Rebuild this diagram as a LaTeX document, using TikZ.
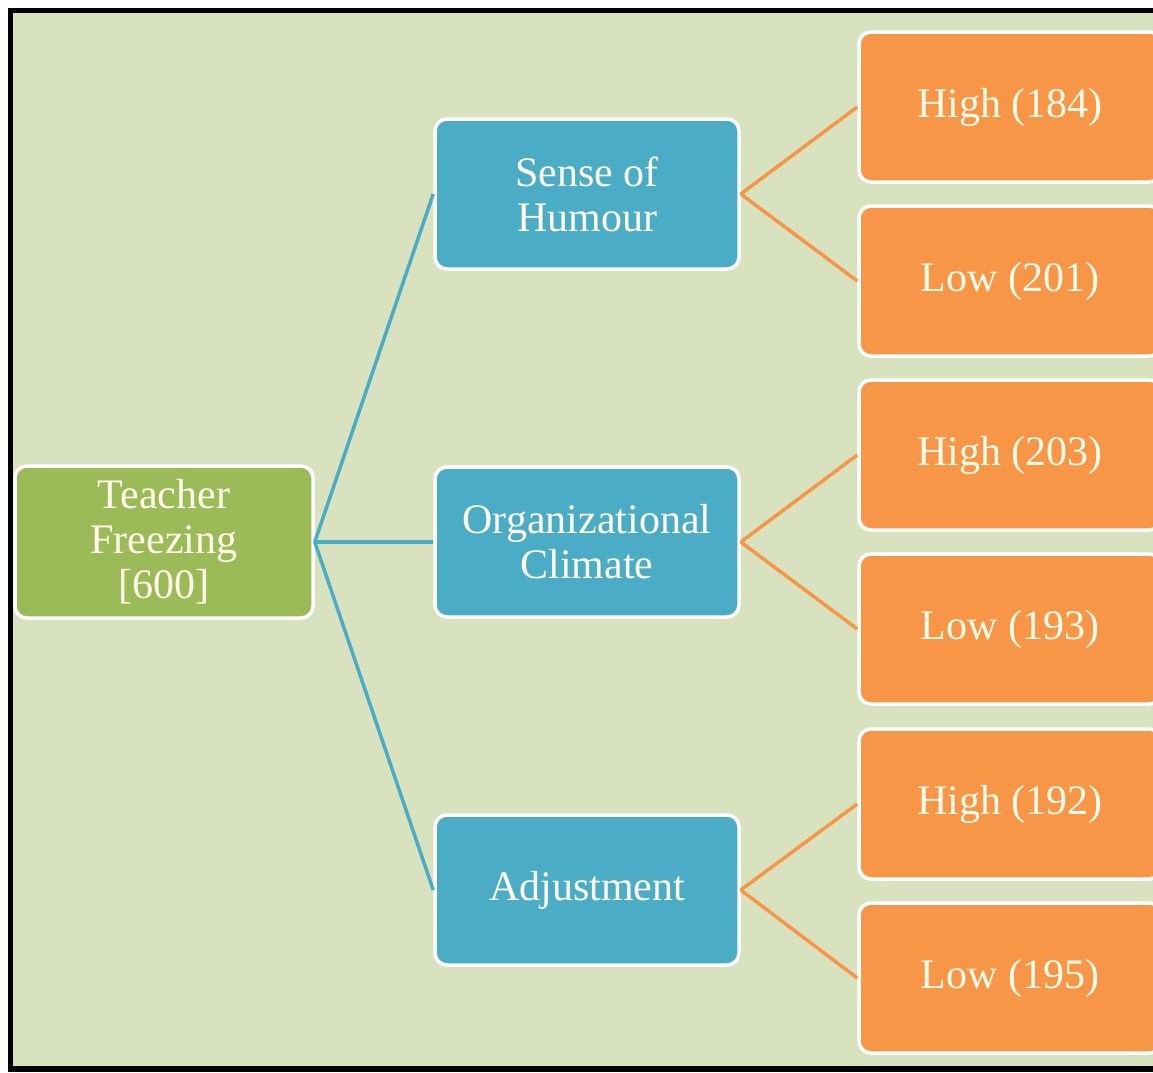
\documentclass[tikz,border=0pt]{standalone}
\usepackage{fontspec}
\setmainfont{Liberation Serif}
\definecolor{bg}{HTML}{D9E2BF}
\definecolor{gbox}{HTML}{9BBB59}
\definecolor{bbox}{HTML}{4BACC6}
\definecolor{obox}{HTML}{F79646}
\definecolor{txt}{HTML}{FFFCEB}
\begin{document}
\begin{tikzpicture}[x=1pt,y=-1pt,
  box/.style={draw=white, line width=3.5pt, rounded corners=12pt, text=txt,
    align=center, inner sep=0pt, font=\fontsize{42}{45}\selectfont},
  rootbox/.style={box, fill=gbox, minimum width=298pt, minimum height=152pt},
  midbox/.style={box, fill=bbox, minimum width=304pt, minimum height=150pt},
  leafbox/.style={box, fill=obox, minimum width=302pt, minimum height=150pt},
  bline/.style={draw=bbox, line width=3.5pt},
  oline/.style={draw=obox, line width=3.5pt}]
\useasboundingbox (0,0) rectangle (1153,1072);
\begin{scope}
\clip (0,0) rectangle (1153,1072);
\fill[white] (0,0) rectangle (1153,1072);
\fill[black] (8,8) rectangle (1170,1072);
\fill[bg] (13,13) rectangle (1170,1066);

\node[rootbox] (tf) at (164,542) {Teacher\\Freezing\\{[600]}};
\node[midbox] (soh) at (587,194) {Sense of\\Humour};
\node[midbox] (oc) at (587,542) {Organizational\\Climate};
\node[midbox] (adj) at (587,890) {Adjustment};
\node[leafbox] (h1) at (1010,107) {High (184)};
\node[leafbox] (l1) at (1010,281) {Low (201)};
\node[leafbox] (h2) at (1010,455) {High (203)};
\node[leafbox] (l2) at (1010,629) {Low (193)};
\node[leafbox] (h3) at (1010,804) {High (192)};
\node[leafbox] (l3) at (1010,978) {Low (195)};

\draw[bline] (tf.east) -- (soh.west);
\draw[bline] (tf.east) -- (oc.west);
\draw[bline] (tf.east) -- (adj.west);
\draw[oline] (soh.east) -- (h1.west);
\draw[oline] (soh.east) -- (l1.west);
\draw[oline] (oc.east) -- (h2.west);
\draw[oline] (oc.east) -- (l2.west);
\draw[oline] (adj.east) -- (h3.west);
\draw[oline] (adj.east) -- (l3.west);
\end{scope}
\end{tikzpicture}
\end{document}
